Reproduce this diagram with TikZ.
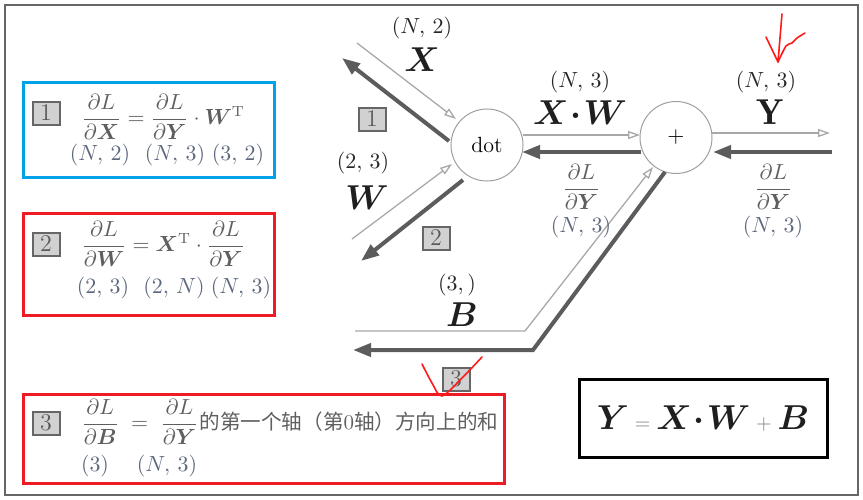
\documentclass[tikz,border=0pt]{standalone}
\usepackage{amsmath,bm}
\usepackage{fontspec}
\usepackage{tkz-euclide}
\usetikzlibrary{arrows.meta}
\newfontfamily\cjk{Noto Sans CJK SC}
\definecolor{frameblue}{RGB}{0,162,232}
\definecolor{framered}{RGB}{237,28,36}
\definecolor{fwdgray}{RGB}{168,168,168}
\definecolor{bwdgray}{RGB}{92,92,92}
\definecolor{txtgray}{RGB}{95,95,95}
\definecolor{dimgray}{RGB}{92,104,125}
\tikzset{
  fwd/.style={draw=fwdgray,line width=0.65pt,-{Triangle[open,length=6pt,width=4pt]}},
  bwd/.style={draw=bwdgray,line width=2pt,-{Triangle[length=9pt,width=6.5pt]}},
  opnode/.style={circle,draw=gray!75,line width=0.5pt,minimum size=36pt,inner sep=0pt,font=\fontsize{11}{13}\selectfont},
  numbox/.style={draw=black!60,fill=black!18,line width=1pt,text=black!65,minimum width=13.5pt,minimum height=11.5pt,inner sep=0pt,font=\fontsize{12}{12}\selectfont},
  dimlabel/.style={text=dimgray,font=\fontsize{10.5}{12}\selectfont,inner sep=0pt},
  dimtop/.style={dimlabel,text=black!85},
  varlabel/.style={font=\fontsize{18}{20}\selectfont,inner sep=0pt,text=black!88},
  formula/.style={text=txtgray,font=\fontsize{10.5}{12}\selectfont,inner sep=0pt,anchor=west},
  scribble/.style={draw=red!90!white,line width=0.8pt,line cap=round,line join=round}
}
\begin{document}
\begin{tikzpicture}[x=0.5pt,y=-0.5pt]
    \useasboundingbox (0,0) rectangle (863,499);
    \draw[black!60,line width=1pt] (5,5) rectangle (858,495);
    \tkzDefPoint(487,145){D}
    \tkzDefPoint(676,137.5){P}
    \node[opnode] (dot) at (D) {dot};
    \node[opnode] (plus) at (P) {$+$};
    \tkzDefPoint(357,43){Xa}
    \tkzDefPoint(456,119){Xb}
    \tkzDefPoint(449,141){Xc}
    \tkzDefPoint(342,58){Xd}
    \tkzDefPoint(352,239){Wa}
    \tkzDefPoint(452,164){Wb}
    \tkzDefPoint(463,180){Wc}
    \tkzDefPoint(361,261){Wd}
    \tkzDefPoint(523,135){Ma}
    \tkzDefPoint(640,135){Mb}
    \tkzDefPoint(641,152){Mc}
    \tkzDefPoint(522,152){Md}
    \tkzDefPoint(712,133){Ya}
    \tkzDefPoint(830,133){Yb}
    \tkzDefPoint(832,152){Yc}
    \tkzDefPoint(713,152){Yd}
    \tkzDefPoint(355,331){Ba}
    \tkzDefPoint(525,331){Bb}
    \tkzDefPoint(653,167){Bc}
    \tkzDefPoint(665,172){Bd}
    \tkzDefPoint(533,350){Be}
    \tkzDefPoint(353,350){Bf}
    \draw[fwd] (Xa) -- (Xb);
    \draw[bwd] (Xc) -- (Xd);
    \draw[fwd] (Wa) -- (Wb);
    \draw[bwd] (Wc) -- (Wd);
    \draw[fwd] (Ma) -- (Mb);
    \draw[bwd] (Mc) -- (Md);
    \draw[fwd] (Ya) -- (Yb);
    \draw[bwd] (Yc) -- (Yd);
    \draw[fwd] (Ba) -- (Bb) -- (Bc);
    \draw[bwd] (Bd) -- (Be) -- (Bf);
    \node[dimtop] (dimX) at (422,28) {$(N,\,2)$};
    \node[varlabel] (varX) at (422,60) {$\bm{X}$};
    \node[dimtop] (dimW) at (363,163) {$(2,\,3)$};
    \node[varlabel] (varW) at (367,198) {$\bm{W}$};
    \node[dimtop] (dimXW) at (580,82) {$(N,\,3)$};
    \node[varlabel] (varXW) at (580,113) {$\bm{X}\mkern1mu{\bm{\cdot}}\mkern1mu\bm{W}$};
    \node[dimtop] (dimY) at (766,82) {$(N,\,3)$};
    \node[varlabel] (varY) at (770,112) {$\mathbf{Y}$};
    \node[dimtop] (dimB) at (457,285) {$(3,)$};
    \node[varlabel] (varB) at (462,315) {$\bm{B}$};
    \node[formula] (gradM) at (562,187) {$\dfrac{\partial L}{\partial\bm{Y}}$};
    \node[dimlabel] (dimgM) at (581,227) {$(N,\,3)$};
    \node[formula] (gradY) at (754,187) {$\dfrac{\partial L}{\partial\bm{Y}}$};
    \node[dimlabel] (dimgY) at (773,227) {$(N,\,3)$};
    \node[numbox] (mark1) at (372,119) {1};
    \node[numbox] (mark2) at (436,238) {2};
    \node[numbox] (mark3) at (456,379) {3};
    \draw[frameblue,line width=1.5pt] (23,82) rectangle (274,177);
    \draw[framered,line width=1.5pt] (23,213) rectangle (274,315);
    \draw[framered,line width=1.5pt] (23,394) rectangle (504,483);
    \draw[black,line width=1.5pt] (579,379) rectangle (827,457);
    \node[numbox] (box1) at (46,113) {1};
    \node[numbox] (box2) at (46,244) {2};
    \node[numbox] (box3) at (46,423) {3};
    \node[formula] (eq1) at (81,117) {$\dfrac{\partial L}{\partial\bm{X}}=\dfrac{\partial L}{\partial\bm{Y}}\cdot\bm{W}^{\mathrm{T}}$};
    \node[dimlabel] (dim1a) at (100,155) {$(N,\,2)$};
    \node[dimlabel] (dim1b) at (175,155) {$(N,\,3)$};
    \node[dimlabel] (dim1c) at (238,155) {$(3,\,2)$};
    \node[formula] (eq2) at (81,244) {$\dfrac{\partial L}{\partial\bm{W}}=\bm{X}^{\mathrm{T}}\cdot\dfrac{\partial L}{\partial\bm{Y}}$};
    \node[dimlabel] (dim2a) at (103,288) {$(2,\,3)$};
    \node[dimlabel] (dim2b) at (174,288) {$(2,\,N)$};
    \node[dimlabel] (dim2c) at (241,288) {$(N,\,3)$};
    \node[formula] (eq3) at (81,422) {$\dfrac{\partial L}{\partial\bm{B}}\;=\;\dfrac{\partial L}{\partial\bm{Y}}$\hspace{0.5pt}{\cjk\fontsize{10.3}{12}\selectfont 的第一个轴（第}0{\cjk\fontsize{10.3}{12}\selectfont 轴）方向上的和}};
    \node[dimlabel] (dim3a) at (95,466) {$(3)$};
    \node[dimlabel] (dim3b) at (167,466) {$(N,\,3)$};
    \node[varlabel] (eqYXWB) at (703,418) {$\bm{Y}$\,{\fontsize{10}{10}\selectfont\color{gray}$=$}\,$\bm{X}\mkern1mu{\bm{\cdot}}\mkern1mu\bm{W}$\,{\fontsize{10}{10}\selectfont\color{gray}$+$}\,$\bm{B}$};
    \draw[scribble] plot[smooth] coordinates {(422,364) (432,383) (442,396) (462,378) (482,357)};
    \draw[scribble] (782,14) -- (778,62) -- (766,37);
    \draw[scribble] plot[smooth] coordinates {(778,62) (786,46) (792,43) (797,38) (805,33)};
\end{tikzpicture}
\end{document}
